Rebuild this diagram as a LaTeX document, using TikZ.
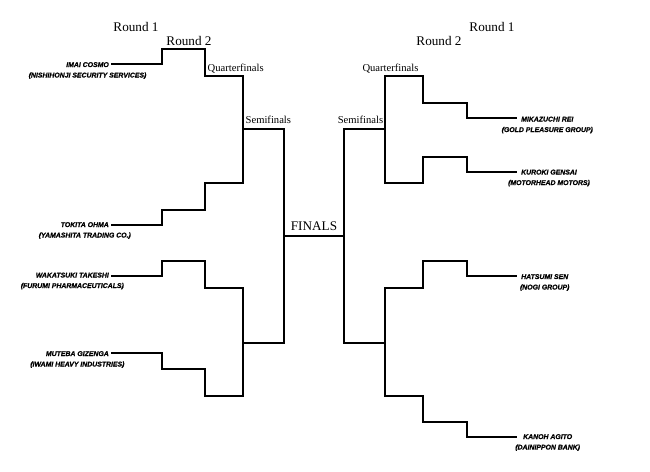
\documentclass[tikz,border=0pt]{standalone}
\usepackage{fontspec}
\setmainfont{Liberation Serif}
\newfontfamily\comic[BoldItalicFeatures={FakeBold=0.8}]{Liberation Sans}
\begin{document}
\begin{tikzpicture}[x=1pt,y=-1pt,
  br/.style={line width=1.8pt, line join=miter, line cap=rect},
  pl/.style={line width=2.6pt},
  nm/.style={font=\comic\bfseries\itshape\fontsize{6.9}{8}\selectfont, inner sep=0pt},
  lbl/.style={font=\fontsize{10.6}{12}\selectfont, inner sep=0pt, anchor=base},
  rnd/.style={font=\fontsize{13.2}{15}\selectfont, inner sep=0pt, anchor=base}]
\useasboundingbox[fill=white] (0,0) rectangle (650,471);

% ---------- labels ----------
\node[rnd] (r1l) at (136,31) {Round 1};
\node[rnd] (r2l) at (189,45.7) {Round 2};
\node[lbl,anchor=base west] (qfl) at (207.5,71) {Quarterfinals};
\node[lbl,anchor=base west] (sfl) at (245.5,123) {Semifinals};
\node[rnd] (fin) at (314,230.5) {FINALS};
\node[rnd] (r1r) at (492,31) {Round 1};
\node[rnd] (r2r) at (439,45.7) {Round 2};
\node[lbl] (qfr) at (390.5,71) {Quarterfinals};
\node[lbl] (sfr) at (360.5,123) {Semifinals};

% ---------- left players ----------
\coordinate (a1) at (111,64);
\node[nm,anchor=base east] (n1) at ([shift={(-2pt,-3pt)}]a1) {IMAI COSMO};
\node[nm,anchor=base] (o1) at ([yshift=-10.5pt]n1.base) {(NISHIHONJI SECURITY SERVICES)};
\coordinate (a2) at (111,225);
\node[nm,anchor=base east] (n2) at ([shift={(-2pt,-2pt)}]a2) {TOKITA OHMA};
\node[nm,anchor=base] (o2) at ([yshift=-10.5pt]n2.base) {(YAMASHITA TRADING CO.)};
\coordinate (a3) at (111,276);
\node[nm,anchor=base east] (n3) at ([shift={(-2pt,-1.5pt)}]a3) {WAKATSUKI TAKESHI};
\node[nm,anchor=base] (o3) at ([yshift=-10.5pt]n3.base) {(FURUMI PHARMACEUTICALS)};
\coordinate (a4) at (111,353);
\node[nm,anchor=base east] (n4) at ([shift={(-2pt,-3pt)}]a4) {MUTEBA GIZENGA};
\node[nm,anchor=base] (o4) at ([yshift=-10.5pt]n4.base) {(IWAMI HEAVY INDUSTRIES)};

% ---------- right players ----------
\coordinate (b1) at (517,118);
\node[nm,anchor=base west] (m1) at ([shift={(4pt,-3.5pt)}]b1) {MIKAZUCHI REI};
\node[nm,anchor=base] (k1) at ([yshift=-10.5pt]m1.base) {(GOLD PLEASURE GROUP)};
\coordinate (b2) at (517,172);
\node[nm,anchor=base west] (m2) at ([shift={(4pt,-2.5pt)}]b2) {KUROKI GENSAI};
\node[nm,anchor=base] (k2) at ([yshift=-10.5pt]m2.base) {(MOTORHEAD MOTORS)};
\coordinate (b3) at (517,276);
\node[nm,anchor=base west] (m3) at ([shift={(4pt,-3pt)}]b3) {HATSUMI SEN};
\node[nm,anchor=base] (k3) at ([yshift=-10.5pt]m3.base) {(NOGI GROUP)};
\coordinate (b4) at (517,437);
\node[nm,anchor=base west] (m4) at ([shift={(6pt,-2pt)}]b4) {KANOH AGITO};
\node[nm,anchor=base] (k4) at ([yshift=-10.5pt]m4.base) {(DAINIPPON BANK)};

% ---------- bracket junctions ----------
\coordinate (qa) at (243,76);  \coordinate (qb) at (243,183);
\coordinate (qc) at (243,288); \coordinate (qd) at (243,396);
\coordinate (sa) at (284,129); \coordinate (sb) at (284,343);
\coordinate (fl) at (284,236); \coordinate (fr) at (344,236);
\coordinate (ta) at (344,129); \coordinate (tb) at (344,343);
\coordinate (ua) at (385,76);  \coordinate (ub) at (385,183);
\coordinate (uc) at (385,288); \coordinate (ud) at (385,396);

% ---------- left paths ----------
\draw[pl] (a1) -- (162,64);
\draw[br] (162,64) -- (162,49) -- (205,49) -- (205,76) -- (qa);
\draw[pl] (a2) -- (162,225);
\draw[br] (162,225) -- (162,210) -- (205,210) -- (205,183) -- (qb);
\draw[pl] (a3) -- (162,276);
\draw[br] (162,276) -- (162,261) -- (205,261) -- (205,288) -- (qc);
\draw[pl] (a4) -- (162,353);
\draw[br] (162,353) -- (162,369) -- (205,369) -- (205,396) -- (qd);
\draw[br] (qa) -- (qb);
\draw[br] (qc) -- (qd);
\draw[br] (qa |- sa) -- (sa);
\draw[br] (qc |- sb) -- (sb);
\draw[br] (sa) -- (sb);
\draw[br] (fl) -- (fr);

% ---------- right paths ----------
\draw[br] (ta) -- (tb);
\draw[br] (ta) -- (ta -| ua);
\draw[br] (tb) -- (tb -| ua);
\draw[br] (ua) -- (ub);
\draw[br] (uc) -- (ud);
\draw[br] (ua) -- (423,76) -- (423,103) -- (467,103) -- (467,118);
\draw[pl] (467,118) -- (b1);
\draw[br] (ub) -- (423,183) -- (423,157) -- (467,157) -- (467,172);
\draw[pl] (467,172) -- (b2);
\draw[br] (uc) -- (423,288) -- (423,261) -- (467,261) -- (467,276);
\draw[pl] (467,276) -- (b3);
\draw[br] (ud) -- (423,396) -- (423,422) -- (467,422) -- (467,437);
\draw[pl] (467,437) -- (b4);
\end{tikzpicture}
\end{document}
